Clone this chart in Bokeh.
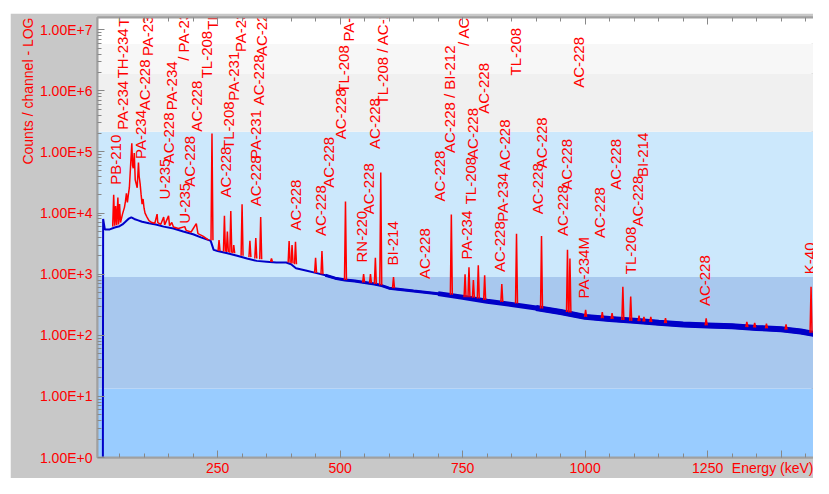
import numpy as np
from bokeh.plotting import figure
from bokeh.models import (BoxAnnotation, FixedTicker, LinearAxis, Range1d, Title,
                          ColumnDataSource, CustomJSTickFormatter, Spacer)
from bokeh.layouts import row, column
from bokeh.core.properties import value
from bokeh.embed import file_html
from bokeh.resources import INLINE

# ---------------- data ----------------
# continuum (blue) : energy keV / counts per channel
bg_energy = [16, 16.5, 20, 30, 40, 50, 56, 62, 68, 74, 80, 88, 96, 110, 124, 140, 160, 180,
             200, 216, 232, 236, 242, 250, 270, 290, 310, 330, 350, 370, 390, 400, 410, 430,
             450, 470, 490, 510, 530, 550, 570, 585, 600, 650, 700, 750, 800, 850, 900, 950,
             1000, 1050, 1100, 1150, 1200, 1250, 1300, 1350, 1400, 1440, 1468]
bg_counts = [1, 8000, 5400, 5400, 5800, 6100, 6500, 7200, 8000, 8500, 8000, 7600, 7200,
             6800, 6500, 6000, 5600, 5000, 4500, 4000, 3600, 3500, 2500, 2400, 2200, 2000,
             1800, 1650, 1600, 1550, 1550, 1450, 1250, 1150, 1050, 960, 860, 800, 770, 730,
             690, 650, 590, 530, 480, 420, 360, 320, 280, 240, 200, 185, 173, 160, 150, 145,
             140, 132, 125, 115, 105]

# low-energy region of interest (red trace)
roi_energy = [36, 38, 40, 42, 44, 46.6, 48, 50, 52, 56, 60, 62, 64, 66, 68, 70, 72, 75, 76.6,
              78, 80, 82, 84, 86, 88.6, 90, 92, 94, 96, 98, 100, 102, 106, 110, 116, 122,
              126.6, 128, 134, 140, 142, 150, 152, 156.6, 160, 170, 183, 186, 196, 206.6,
              210, 220, 232]
roi_counts = [6000, 20000, 6200, 13000, 6300, 17900, 6500, 14000, 7000, 9600, 12400, 15500,
              21000, 15000, 20000, 26000, 50000, 139000, 60000, 54000, 96000, 35000, 30000,
              26000, 67000, 40000, 30000, 20000, 14000, 17000, 12000, 10000, 8600, 7500, 7000,
              6800, 9600, 7000, 6500, 8600, 6400, 9000, 6200, 7000, 5900, 5600, 6000, 5200,
              4900, 6700, 4600, 4200, 3600]

# peaks (red): energy, top counts, base counts
peak_energy = [238.6, 253, 264, 270, 277, 283, 300, 316, 328, 338, 360, 396, 402, 409, 450,
               463, 511, 548, 562, 572, 583, 609, 727, 755, 763, 772, 782, 795, 830, 860,
               911, 964, 969, 1001, 1035, 1055, 1077, 1093, 1110, 1120, 1134, 1164, 1247,
               1330, 1346, 1370, 1410, 1461]
peak_top = [200000, 3600, 9000, 5000, 10800, 3000, 13900, 3500, 3900, 8600, 1800, 3500, 3000,
            3400, 1860, 2400, 15500, 1000, 1000, 1860, 46000, 900, 9500, 1000, 1300, 800,
            1400, 960, 690, 4600, 4200, 2500, 1800, 260, 240, 230, 620, 430, 210, 200, 200,
            190, 190, 165, 160, 155, 150, 620]
peak_base = [3600, 2400, 2350, 2300, 2250, 2200, 2000, 1900, 1800, 1750, 1600, 1550, 1500,
             1450, 1050, 1000, 800, 730, 710, 690, 660, 590, 460, 420, 420, 410, 400, 380,
             350, 330, 275, 240, 235, 200, 190, 185, 178, 172, 170, 168, 165, 158, 145,
             136, 134, 130, 124, 110]

# nuclide labels: text, energy, counts at start of text
label_text = ["PB-210", "PA-234", "TH-234", "TH-234", "PA-234", "AC-228", "PA-231",
              "U-235", "AC-228", "PA-234", "U-235", "AC-228", "AC-228", "TL-208", "TH-228",
              "/ PA-231", "AC-228", "TL-208", "PA-231", "PA-231", "AC-228", "PA-231",
              "AC-228", "AC-228", "AC-228", "AC-228", "AC-228", "AC-228", "TL-208", "PA-231",
              "RN-220", "AC-228", "AC-228", "TL-208 / AC-228", "BI-214", "AC-228", "AC-228",
              "AC-228 / BI-212", "/ AC-228", "PA-234", "TL-208", "AC-228", "AC-228",
              "AC-228", "PA-234", "AC-228", "TL-208", "AC-228", "AC-228", "AC-228",
              "AC-228", "AC-228", "PA-234M", "AC-228", "AC-228", "TL-208", "AC-228",
              "BI-214", "AC-228", "K-40"]
label_energy = [41, 57, 57, 58, 93, 100, 107, 142, 150, 157, 183, 193, 207, 227, 240, 181,
                267, 273, 283, 297, 327, 327, 333, 340, 410, 460, 477, 500, 507, 517, 543,
                557, 570, 587, 607, 673, 703, 723, 752, 757, 767, 770, 793, 826, 832, 836,
                857, 903, 910, 953, 963, 986, 997, 1030, 1063, 1093, 1107, 1117, 1243, 1457]
label_counts = [2.9e4, 2.3e5, 1.6e6, 1.12e7, 7.7e4, 4.8e5, 3.7e6, 1.67e4, 6.5e4, 4.8e5,
                6.7e3, 2.7e4, 2.15e5, 1.6e6, 1.0e7, 3.1e6, 1.8e4, 1.12e5, 6.9e5, 4.3e6,
                1.29e4, 7.7e4, 5.8e5, 3.7e6, 5.2e3, 4.2e3, 2.6e4, 1.61e5, 9.3e5, 6.4e6,
                1.55e3, 9.6e3, 1.12e5, 6.0e5, 1.39e3, 830, 1.55e4, 9.6e4, 5.4e6, 1.73e3,
                1.39e4, 7.7e4, 4.2e5, 1.08e3, 7.2e3, 5.0e4, 1.79e6, 9.6e3, 5.4e4, 4.2e3,
                2.4e4, 1.12e6, 400, 3.9e3, 2.4e4, 1000, 6.0e3, 3.9e4, 300, 1000]

# background bands (counts)
band_bottom = [0.5, 13.4, 896, 2.15e5, 1.93e6, 5.9e6]
band_top = [13.4, 896, 2.15e5, 1.93e6, 5.9e6, 1e9]
band_colors = ["#99ccff", "#a8c8ee", "#cce8fc", "#f0f0f0", "#f7f7f7", "#ffffff"]

x_ticks = [250, 500, 750, 1000, 1250, 1400]
x_tick_labels = ["250", "500", "750", "1000", "1250", "Energy (keV)"]
x_minor = [50, 100, 150, 200, 250, 300, 350, 400, 450, 500, 550, 600, 650, 700, 750, 800,
           850, 900, 950, 1000, 1050, 1100, 1150, 1200, 1250, 1300, 1350, 1400, 1450]
y_ticks = [1, 10, 100, 1000, 10000, 100000, 1000000, 10000000]
y_tick_labels = ["1.00E+0", "1.00E+1", "1.00E+2", "1.00E+3", "1.00E+4", "1.00E+5",
                 "1.00E+6", "1.00E+7"]

RED = "#ff0000"
BLUE = "#0000c8"
FONT = "Liberation Sans"

p = figure(width=803, height=465, y_axis_type="log",
           x_range=Range1d(5, 1466), y_range=Range1d(1, 10 ** 7.2),
           output_backend="svg", toolbar_location=None,
           min_border_left=87, min_border_right=0, min_border_top=4, min_border_bottom=18,
           border_fill_color="#c8c8c8", background_fill_color="#ffffff")
p.grid.visible = False
p.outline_line_color = "#a0a0a0"
p.outline_line_width = 2

for b, t, c in zip(band_bottom, band_top, band_colors):
    p.add_layout(BoxAnnotation(bottom=b, top=t, fill_color=c, fill_alpha=1.0,
                               line_alpha=0, level="underlay"))

# axes
xa = p.xaxis[0]
xa.ticker = FixedTicker(ticks=x_ticks, minor_ticks=x_minor)
xa.major_label_overrides = dict(zip(x_ticks, x_tick_labels))
ya = p.yaxis[0]
ya.ticker = FixedTicker(ticks=y_ticks,
                        minor_ticks=[m * d for d in y_ticks for m in range(2, 10)])
ya.major_label_overrides = dict(zip(y_ticks, y_tick_labels))
for ax in (xa, ya):
    ax.major_tick_in = 7
    ax.major_tick_out = 0
    ax.minor_tick_in = 4
    ax.minor_tick_out = 0
    ax.major_tick_line_color = "#888888"
    ax.minor_tick_line_color = "#888888"
    ax.axis_line_color = "#a0a0a0"
    ax.axis_line_width = 2
    ax.major_label_text_color = RED
    ax.major_label_text_font = FONT
    ax.major_label_text_font_size = "14px"
xa.major_label_standoff = 2
ya.major_label_standoff = 5

top = LinearAxis(ticker=FixedTicker(ticks=x_ticks[:5], minor_ticks=x_minor),
                 formatter=CustomJSTickFormatter(code="return ''"),
                 major_tick_in=7, major_tick_out=0, minor_tick_in=4, minor_tick_out=0,
                 major_tick_line_color="#888888", minor_tick_line_color="#888888",
                 axis_line_color="#a0a0a0", axis_line_width=2, major_label_standoff=0,
                 major_label_text_font_size="1px")
p.add_layout(top, "above")

ytitle = Title(text="Counts / channel - LOG", align="right", text_color=RED,
               text_font=FONT, text_font_size="14px", text_font_style="normal",
               standoff=2)
p.add_layout(ytitle, "left")

# spectrum
p.line(bg_energy, bg_counts, line_color=BLUE, line_width=2)
p.line(bg_energy[35:], bg_counts[35:], line_color=BLUE, line_width=3)
p.line(bg_energy[44:], bg_counts[44:], line_color=BLUE, line_width=5)
p.line(bg_energy[48:], bg_counts[48:], line_color=BLUE, line_width=6)
p.line(roi_energy, roi_counts, line_color=RED, line_width=1.5)

w = 2.0
xs = [[e - w, e, e + w] for e in peak_energy]
ys = [[b, t, b] for t, b in zip(peak_top, peak_base)]
p.multi_line(xs, ys, line_color=RED, line_width=1.5)

src = ColumnDataSource(dict(x=label_energy, y=label_counts, t=label_text))
p.text(x="x", y="y", text="t", source=src, angle=np.pi / 2, text_align="left",
       text_baseline="middle", text_color=RED, text_font=value(FONT),
       text_font_size="15px")

layout = row(Spacer(width=10, height=10), column(Spacer(width=10, height=13), p))
open("out.html", "w").write(file_html(layout, INLINE))
